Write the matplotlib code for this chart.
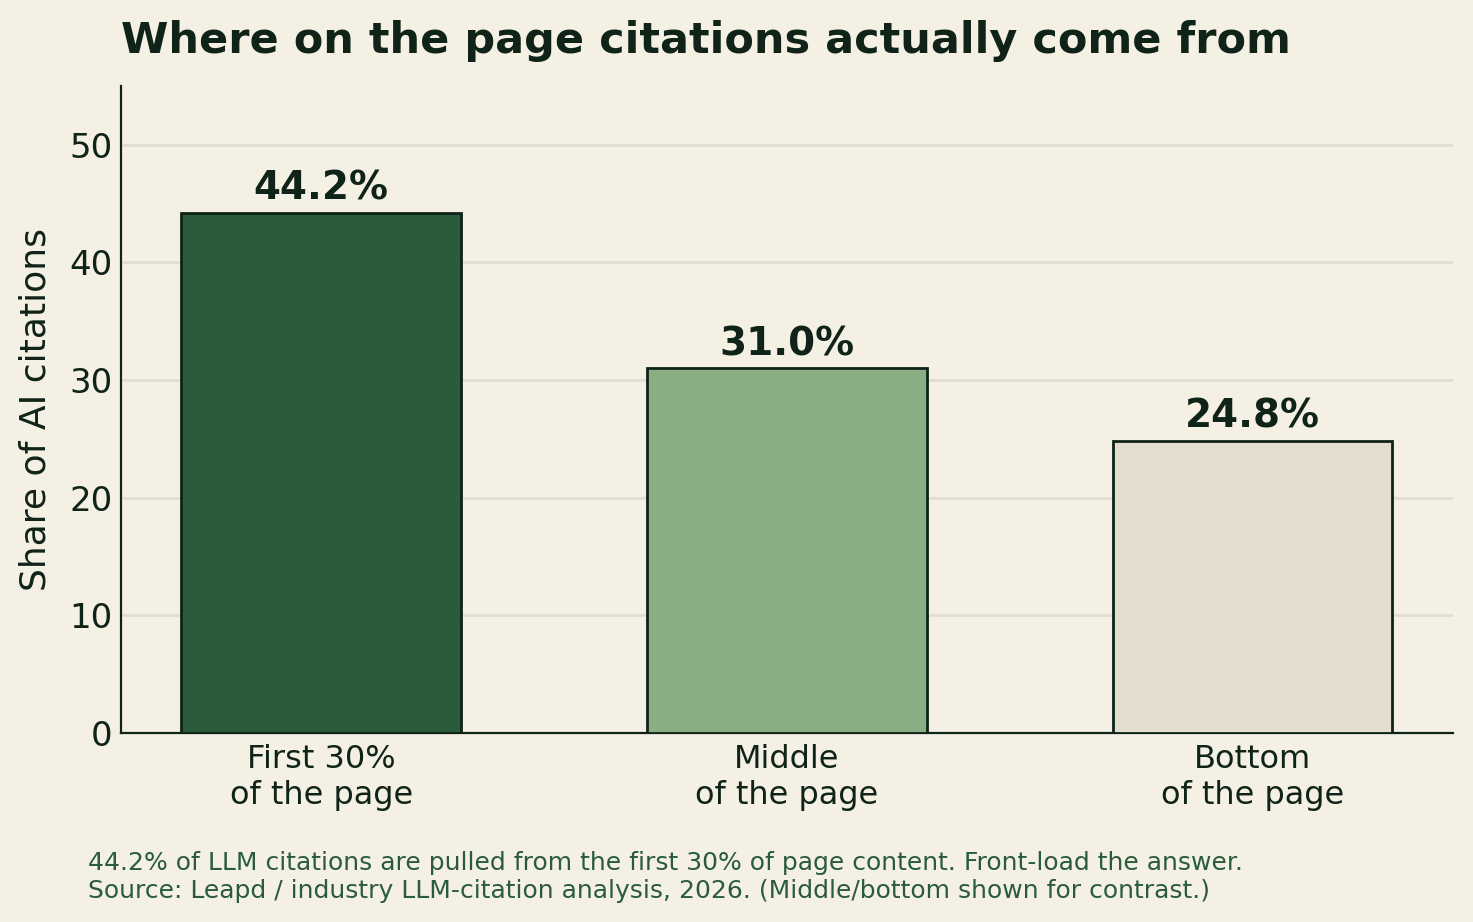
import numpy as np
import matplotlib
matplotlib.use("Agg")
import matplotlib.pyplot as plt

# data
categories = ["First 30%\nof the page", "Middle\nof the page", "Bottom\nof the page"]
shares = [44.2, 31.0, 24.8]
bar_colors = ["#2a5c3b", "#8aae84", "#e4dece"]

bg = "#f4f0e4"
ink = "#0f2318"

fig = plt.figure(figsize=(14.73, 9.22), dpi=100, facecolor=bg)
ax = fig.add_axes([0.0821, 0.205, 0.9043, 0.7017], facecolor=bg)

x = np.arange(len(categories))
ax.bar(x, shares, width=0.6, color=bar_colors, edgecolor=ink, linewidth=2, zorder=3)

for xi, v in zip(x, shares):
    ax.text(xi, v + 0.45, f"{v:.1f}%", ha="center", va="bottom",
            fontsize=28, fontweight="bold", color=ink)

ax.set_xlim(-0.43, 2.43)
ax.set_ylim(0, 55)
ax.set_yticks([0, 10, 20, 30, 40, 50])
ax.set_xticks(x)
ax.set_xticklabels(categories, fontsize=23, color=ink)
ax.tick_params(axis="y", labelsize=24.5, colors=ink, length=0, pad=6)
ax.tick_params(axis="x", length=0, pad=8)
ax.set_ylabel("Share of AI citations", fontsize=26, color=ink, labelpad=12)

ax.grid(axis="y", color="#e2ddd0", linewidth=2, zorder=0)
ax.set_axisbelow(True)
for s in ["top", "right"]:
    ax.spines[s].set_visible(False)
for s in ["left", "bottom"]:
    ax.spines[s].set_color(ink)
    ax.spines[s].set_linewidth(1.6)

fig.text(0.0821, 0.956, "Where on the page citations actually come from",
         fontsize=31, fontweight="bold", color=ink, ha="left", va="center")

fig.text(0.06, 0.049,
         "44.2% of LLM citations are pulled from the first 30% of page content. Front-load the answer.\n"
         "Source: Leapd / industry LLM-citation analysis, 2026. (Middle/bottom shown for contrast.)",
         fontsize=18, color="#2a5c3b", ha="left", va="center", linespacing=1.2)

fig.savefig("out.png", dpi=100, facecolor=bg)
